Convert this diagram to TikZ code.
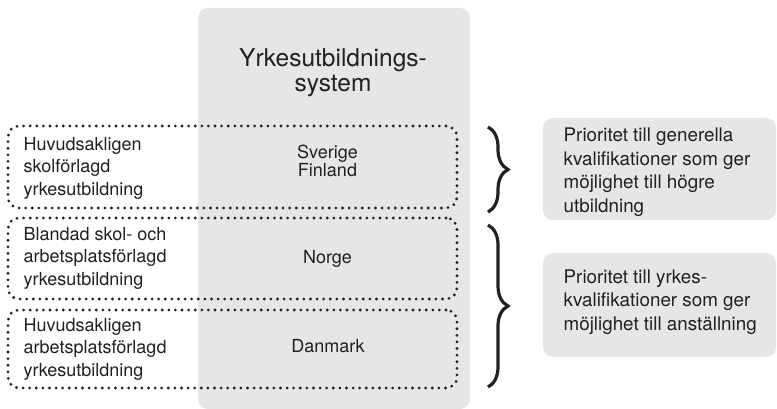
\documentclass[tikz,border=0pt]{standalone}
\usepackage{fontspec}
\setmainfont{TeX Gyre Heros}
\usetikzlibrary{decorations.pathreplacing}
\definecolor{panel}{RGB}{229,230,232}
\definecolor{ink}{RGB}{35,31,32}
\tikzset{
  colbox/.style={fill=panel, rounded corners=10pt, inner sep=0pt},
  sidebox/.style={fill=panel, rounded corners=10pt, inner sep=0pt},
  dotbox/.style={draw=ink, line width=3.1pt, line cap=round,
    dash pattern=on 0pt off 6.6pt, rounded corners=11pt, inner sep=0pt},
  lefttext/.style={text=ink, align=left, inner sep=0pt, anchor=west,
    font=\fontsize{18}{22.5}\selectfont},
  countrytext/.style={text=ink, align=center, inner sep=0pt,
    font=\fontsize{18}{18.5}\selectfont},
  titletext/.style={text=ink, align=center, inner sep=0pt,
    font=\fontsize{24.5}{25}\selectfont},
  righttext/.style={text=ink, align=left, inner sep=0pt, anchor=west,
    font=\fontsize{18.8}{23.5}\selectfont},
  bracestyle/.style={draw=ink, line width=3.2pt,
    decorate, decoration={brace, amplitude=20pt, aspect=0.5}}
}
\begin{document}
\begin{tikzpicture}[x=1pt, y=-1pt]
\useasboundingbox (0,0) rectangle (777,409);

% central column
\node[colbox, minimum width=272pt, minimum height=401pt] (col) at (334,208.5) {};
\node[titletext] (title) at (333,73) {Yrkesutbildnings-\\system};

% dotted groups
\node[dotbox, minimum width=449pt, minimum height=82pt] (g1) at (232.5,167) {};
\node[dotbox, minimum width=449pt, minimum height=81pt] (g2) at (232.5,258.5) {};
\node[dotbox, minimum width=449pt, minimum height=78pt] (g3) at (232.5,349) {};

% group labels
\node[lefttext] (l1) at (23.5,168.3) {Huvudsakligen\\skolförlagd\\yrkesutbildning};
\node[lefttext] (l2) at (23.5,258) {Blandad skol- och\\arbetsplatsförlagd\\yrkesutbildning};
\node[lefttext] (l3) at (23.5,349) {Huvudsakligen\\arbetsplatsförlagd\\yrkesutbildning};

% countries
\node[countrytext] (c1) at (327.5,161) {Sverige\\Finland};
\node[countrytext] (c2) at (327.5,258.5) {Norge};
\node[countrytext] (c3) at (328,346.5) {Danmark};

% braces
\coordinate (b1t) at (488,127);
\coordinate (b1b) at (488,212);
\coordinate (b2t) at (488,225);
\coordinate (b2b) at (488,387);
\draw[bracestyle] (b1t) -- (b1b);
\draw[bracestyle] (b2t) -- (b2b);

% outcome boxes
\node[sidebox, minimum width=233pt, minimum height=102pt] (o1) at (659.5,169) {};
\node[sidebox, minimum width=233pt, minimum height=104pt] (o2) at (659.5,305) {};
\node[righttext] (t1) at (563.5,172) {Prioritet till generella\\kvalifikationer som ger\\möjlighet till högre\\utbildning};
\node[righttext] (t2) at (563.5,302) {Prioritet till yrkes-\\kvalifikationer som ger\\möjlighet till anställning};
\end{tikzpicture}
\end{document}
